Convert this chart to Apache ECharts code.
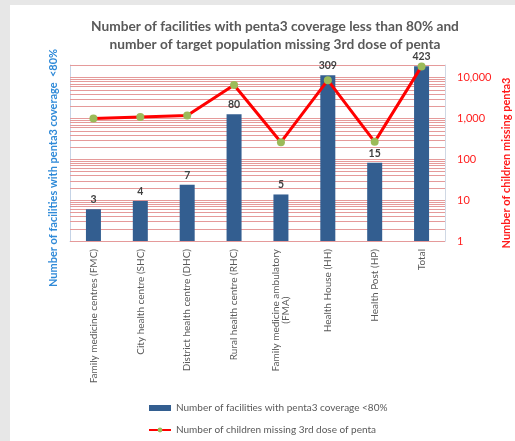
<!DOCTYPE html>
<html>
<head>
<meta charset="utf-8">
<script src="https://cdn.jsdelivr.net/npm/echarts@6/dist/echarts.min.js"></script>
<style>
  html, body { margin: 0; padding: 0; background: #e7e7e7; }
  #chart { width: 515px; height: 441px; }
</style>
</head>
<body>
<div id="chart"></div>
<script>
// Facility types on the category axis
const categories = [
  'Family medicine centres (FMC)',
  'City health centre (SHC)',
  'District health centre (DHC)',
  'Rural health centre (RHC)',
  'Family medicine ambulatory\n(FMA)',
  'Health House (HH)',
  'Health Post (HP)',
  'Total'
];
// Facilities with penta3 coverage below 80% (left log axis)
const facilities = [3, 4, 7, 80, 5, 309, 15, 423];
// Children missing the 3rd dose of penta (right log axis)
const missingChildren = [980, 1070, 1160, 6500, 260, 8500, 265, 18500];
// Labelled decades on the right axis
const rightTicks = [1, 10, 100, 1000, 10000];
const minorSteps = [2, 3, 4, 5, 6, 7, 8, 9];

const barName = 'Number of facilities with penta3 coverage <80%';
const lineName = 'Number of children missing 3rd dose of penta';

// Log gridlines: each decade plus its 2..9 subdivisions, up to the axis top
const gridValues = [];
rightTicks.forEach(function (d) {
  gridValues.push(d);
  if (d < 10000) minorSteps.forEach(function (m) { gridValues.push(m * d); });
});
gridValues.push(20000);

const GRID_COLOR = '#e59a9a';
const FONT = 'Lato, "Open Sans", sans-serif';
const chart = echarts.init(document.getElementById('chart'), null, { renderer: 'canvas' });

chart.setOption({
  backgroundColor: '#e7e7e7',
  animation: false,
  textStyle: { fontFamily: FONT },
  graphic: [
    { type: 'rect', left: 10, top: 5, z: -10, silent: true,
      shape: { width: 505, height: 436 }, style: { fill: '#ffffff' } },
    { type: 'text', x: 53, y: 168, rotation: Math.PI / 2, z: 10, silent: true,
      style: { text: 'Number of facilities with penta3 coverage  <80%', fill: '#2f8ad8',
        font: 'bold 11px ' + FONT, align: 'center', verticalAlign: 'middle',
        textAlign: 'center', textVerticalAlign: 'middle' } },
    { type: 'text', x: 506, y: 163, rotation: Math.PI / 2, z: 10, silent: true,
      style: { text: 'Number of children missing penta3', fill: '#ff1a1a',
        font: 'bold 11px ' + FONT, align: 'center', verticalAlign: 'middle',
        textAlign: 'center', textVerticalAlign: 'middle' } }
  ],
  title: {
    text: 'Number of facilities with penta3 coverage less than 80% and\nnumber of target population missing 3rd dose of penta',
    left: 270, top: 13, textAlign: 'center',
    textStyle: { fontFamily: FONT, fontSize: 13.7, fontWeight: 'bold', color: '#595959', lineHeight: 18 }
  },
  legend: {
    orient: 'vertical', left: 148, top: 403, itemGap: 12, padding: 0, height: 40,
    itemWidth: 22, itemHeight: 6,
    textStyle: { fontFamily: FONT, fontSize: 10, color: '#595959' },
    data: [
      { name: barName, icon: 'rect' },
      { name: lineName }
    ]
  },
  grid: { left: 70, right: 70, top: 65, bottom: 200, containLabel: false },
  xAxis: {
    type: 'category', data: categories,
    axisLine: { show: true, lineStyle: { color: '#c5d3e6', width: 1 } },
    axisTick: { show: false },
    splitLine: { show: false },
    axisLabel: {
      rotate: 90, margin: 8, interval: 0, fontFamily: FONT, fontSize: 10, color: '#595959',
      formatter: function (v) {
        const parts = v.split('\n');
        return parts.length > 1 ? '{a|' + parts[0] + '}\n{c|' + parts[1] + '}' : v;
      },
      rich: {
        a: { fontFamily: FONT, fontSize: 10, color: '#595959' },
        c: { fontFamily: FONT, fontSize: 10, color: '#595959', align: 'center' }
      }
    }
  },
  yAxis: [
    {
      type: 'log', logBase: 10, min: 1, max: 440,
      axisLine: { show: true, lineStyle: { color: '#c5d3e6' } },
      axisTick: { show: false }, axisLabel: { show: false },
      splitLine: { show: false }, minorSplitLine: { show: false }
    },
    {
      type: 'log', logBase: 10, min: 1, max: 20000, position: 'right',
      axisLine: { show: true, lineStyle: { color: '#d0d8e4' } },
      axisTick: { show: false }, splitLine: { show: false }, minorSplitLine: { show: false },
      axisLabel: {
        margin: 12, fontFamily: FONT, fontSize: 11, color: '#ff2020',
        formatter: function (v) {
          const r = Math.round(v);
          return rightTicks.indexOf(r) >= 0 ? r.toLocaleString('en-US') : '';
        }
      }
    }
  ],
  series: [
    {
      // Horizontal log gridlines laid on the right-hand scale, behind the bars
      name: 'grid', type: 'custom', yAxisIndex: 1, z: 1, silent: true,
      data: gridValues,
      renderItem: function (params, api) {
        const y = Math.round(api.coord([0, api.value(0)])[1]) + 0.5;
        const cs = params.coordSys;
        return {
          type: 'line',
          shape: { x1: cs.x, y1: y, x2: cs.x + cs.width, y2: y },
          style: { stroke: GRID_COLOR, lineWidth: 1 }
        };
      },
      encode: { y: 0 }
    },
    {
      name: barName, type: 'bar', yAxisIndex: 0, z: 2,
      data: facilities, barWidth: 15,
      itemStyle: { color: '#335e90' },
      label: {
        show: true, position: 'top', distance: 4,
        fontFamily: FONT, fontSize: 10.5, fontWeight: 'bold', color: '#404040'
      }
    },
    {
      name: lineName, type: 'line', yAxisIndex: 1, z: 3,
      data: missingChildren,
      symbol: 'circle', symbolSize: 8,
      lineStyle: { color: '#ff0000', width: 3 },
      itemStyle: { color: '#9bbb59' }
    }
  ]
});
</script>
</body>
</html>
